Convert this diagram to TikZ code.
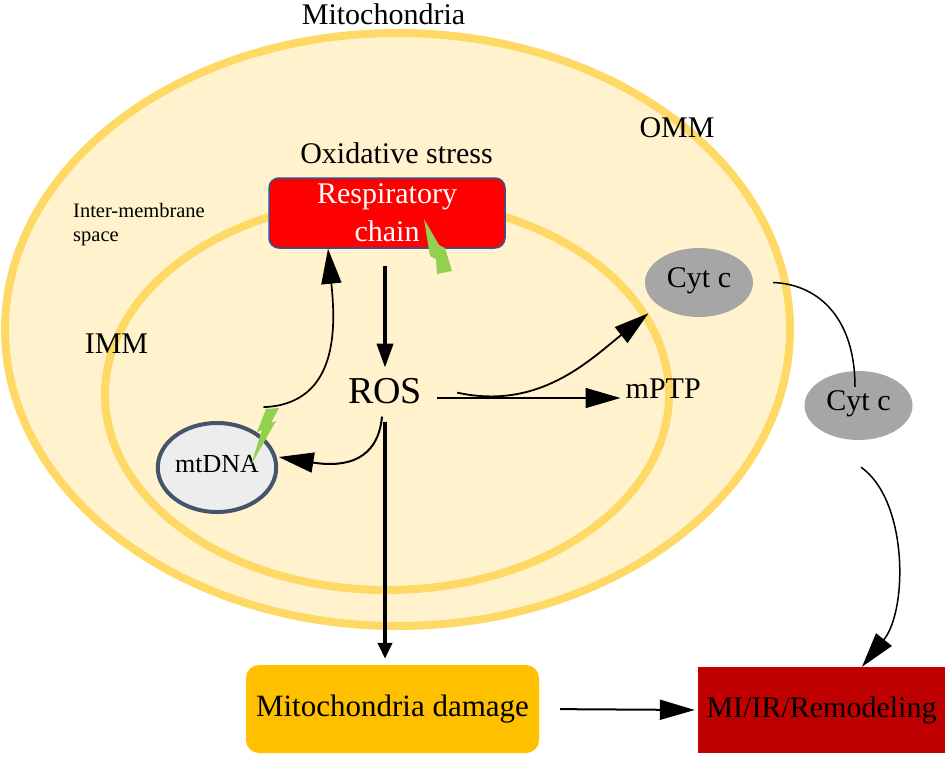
\documentclass[tikz,border=0pt]{standalone}
\usepackage{fontspec}
\setmainfont{Liberation Serif}
\usetikzlibrary{arrows.meta,shapes.geometric}
\definecolor{ringc}{HTML}{FFD966}
\definecolor{fillc}{HTML}{FFF2CC}
\definecolor{respred}{HTML}{FF0000}
\definecolor{respblue}{HTML}{2F5597}
\definecolor{cytgray}{HTML}{A6A6A6}
\definecolor{dnafill}{HTML}{EDEDED}
\definecolor{dnaedge}{HTML}{44546A}
\definecolor{dmgc}{HTML}{FFC000}
\definecolor{mic}{HTML}{C00000}
\definecolor{boltc}{HTML}{92D050}
\begin{document}
\begin{tikzpicture}[x=1pt,y=-1pt,
  lbl/.style={inner sep=0pt,font=\fontsize{30}{36}\selectfont},
  ringline/.style={draw=ringc,line width=8pt,fill=fillc},
  cyt/.style={ellipse,fill=cytgray,minimum width=108pt,minimum height=69pt,inner sep=0pt,font=\fontsize{30}{36}\selectfont,text depth=9pt},
  thinarr/.style={line width=1.6pt,-{Triangle[length=35pt,width=20pt]}},
  thickarr/.style={line width=4pt},
  plainline/.style={line width=1.5pt}
]
\useasboundingbox (0,0) rectangle (945,756);
% membranes
\draw[ringline] (397.5,329.5) ellipse [x radius=392.5pt, y radius=296.5pt];
\draw[ringline] (387,394.5) ellipse [x radius=282pt, y radius=195.5pt];
% labels
\node[lbl,anchor=base] (mito) at (383.5,24) {Mitochondria};
\node[lbl,anchor=base] (ox) at (396.5,163) {Oxidative stress};
\node[lbl,anchor=base] (omm) at (677,137) {OMM};
\node[lbl,anchor=base] (imm) at (116.5,353) {IMM};
\node[inner sep=0pt,anchor=west,align=left,font=\fontsize{20.5}{24}\selectfont] (ims) at (73,225) {Inter-membrane\\space};
\node[lbl,anchor=base west] (mptp) at (625.5,398) {mPTP};
\node[inner sep=0pt,anchor=base,font=\fontsize{38}{44}\selectfont] (ros) at (385,403) {ROS};
% boxes
\node[draw=respblue,line width=1.5pt,fill=respred,rounded corners=10pt,minimum width=236pt,minimum height=70pt,inner sep=0pt,text=white,align=center,font=\fontsize{30}{38}\selectfont] (resp) at (387,213) {Respiratory\\chain};
\node[cyt] (cyt1) at (699,282.5) {Cyt c};
\node[cyt] (cyt2) at (858.5,405.5) {Cyt c};
\node[ellipse,draw=dnaedge,line width=4pt,fill=dnafill,minimum width=104pt,minimum height=89pt,inner sep=0pt,font=\fontsize{26}{30}\selectfont,text depth=8pt] (mtdna) at (217,467.5) {mtDNA};
\node[fill=dmgc,rounded corners=13pt,minimum width=293pt,minimum height=88pt,inner sep=0pt,font=\fontsize{31}{36}\selectfont] (dmg) at (392.5,709) {Mitochondria damage};
\node[fill=mic,minimum width=247pt,minimum height=86pt,inner sep=0pt,font=\fontsize{30}{36}\selectfont] (mi) at (821.5,710) {MI/IR/Remodeling};
% connectors
\draw[thickarr,-{Triangle[length=24pt,width=16pt]},shorten <=17pt] (resp.south -| ros.north) -- ([yshift=10pt]ros.north);
\draw[thickarr,-{Triangle[length=16pt,width=14pt]},shorten <=18pt,shorten >=6pt] (ros.south) -- (ros.south |- dmg.north);
\draw[thinarr,shorten <=15pt,shorten >=5pt] (ros.east |- mptp.base west) -- (mptp.base west);
\draw[thinarr,line width=1.8pt] ([xshift=35pt,yshift=-2pt]ros.east) .. controls +(82,18) and +(-59,47) .. ([xshift=-11pt,yshift=-7pt]cyt1.211);
\draw[thinarr,line width=2pt] ([xshift=-3pt,yshift=-13pt]ros.south) .. controls +(-4,43) and +(68,11) .. ([xshift=2pt]mtdna.10);
\draw[thinarr,line width=1.7pt] ([xshift=16pt,yshift=20pt]mtdna.53) .. controls +(78,-3) and +(7,72) .. ([xshift=-59pt]resp.south);
\draw[plainline] ([xshift=20pt]cyt1.east) .. controls +(47,2) and +(0,-67) .. ([xshift=-3.5pt,yshift=-16pt]cyt2.north);
\draw[thinarr,line width=1.5pt] ([xshift=2.5pt,yshift=-27pt]cyt2.south) .. controls +(47,33) and +(46,-57) .. ([xshift=40.5pt]mi.north);
\draw[thinarr,line width=2pt,shorten <=21pt,shorten >=3pt] (dmg.east) -- (mi.west);
% lightning bolts
\fill[boltc] (424,219) -- (439,245) -- (445,248) -- (452,271) -- (437,274) -- (436,259) -- (430,256) -- cycle;
\fill[boltc] (266,409) -- (279,408) -- (271,423) -- (276,421) -- (251,465) -- (262,430) -- (257,432) -- cycle;
\end{tikzpicture}
\end{document}
